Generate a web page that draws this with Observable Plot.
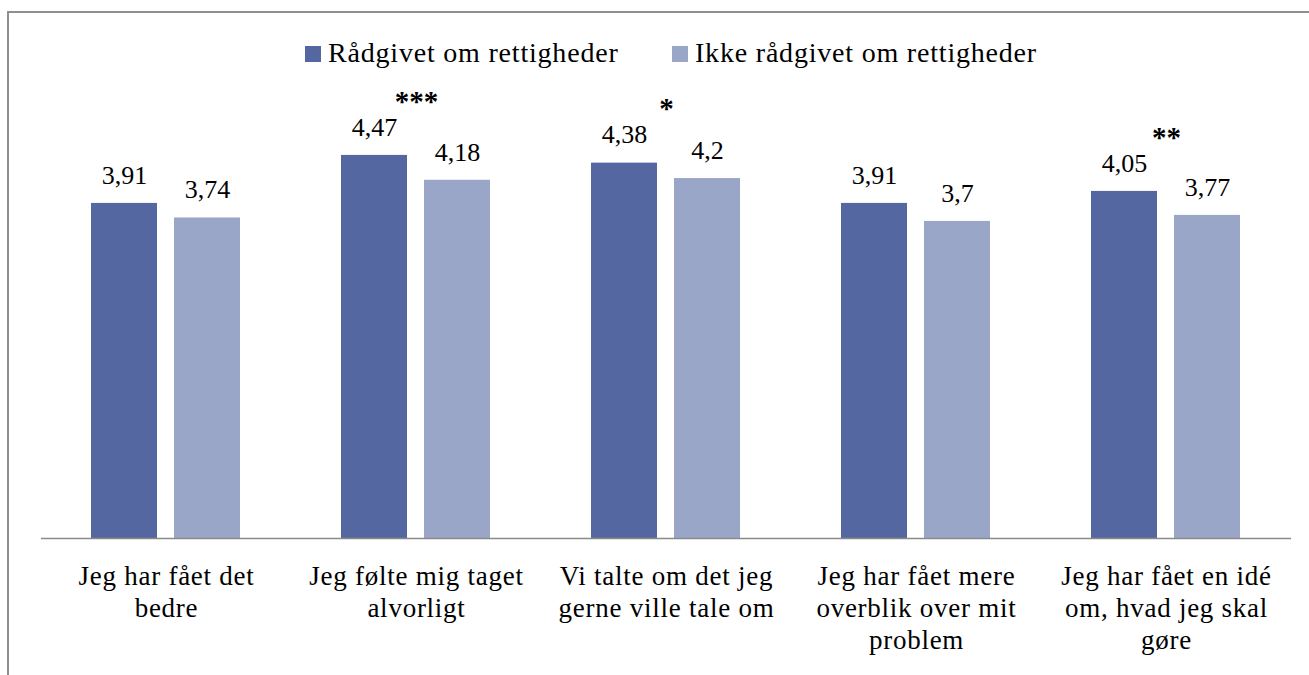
<!DOCTYPE html>
<html><head><meta charset="utf-8">
<script src="https://cdn.jsdelivr.net/npm/d3@7"></script>
<script src="https://cdn.jsdelivr.net/npm/@observablehq/plot@0.6"></script>
<style>
body{margin:0;background:#fff;font-family:'Liberation Serif','Times New Roman',serif;}
#wrap{position:relative;width:1309px;height:675px;overflow:hidden;background:#fff;}
#frame{position:absolute;left:7px;top:11px;width:1400px;height:800px;border:2px solid #8f8f8f;box-sizing:border-box;pointer-events:none;}
#legend{position:relative;height:80px;font-size:28px;color:#000;letter-spacing:0.8px;}
.item{position:absolute;top:39px;line-height:28px;white-space:nowrap;}
.sw{position:absolute;width:16px;height:16px;top:46px;}
#chart svg{display:block;}
#chart g[font-size="27"] text{letter-spacing:0.75px;}
</style></head><body>
<div id="wrap"><div id="legend"></div><div id="chart"></div><div id="frame"></div></div>
<script>
const categories = [
  "Jeg har fået det\nbedre",
  "Jeg følte mig taget\nalvorligt",
  "Vi talte om det jeg\ngerne ville tale om",
  "Jeg har fået mere\noverblik over mit\nproblem",
  "Jeg har fået en idé\nom, hvad jeg skal\ngøre"
];
const series = ["Rådgivet om rettigheder", "Ikke rådgivet om rettigheder"];
const raadgivet = [3.91, 4.47, 4.38, 3.91, 4.05];
const ikkeRaadgivet = [3.74, 4.18, 4.2, 3.7, 3.77];
const significance = ["", "***", "*", "", "**"];
const colors = ["#5567a0", "#99a6c8"];
const FONT = "'Liberation Serif','Times New Roman',serif";

const data = categories.flatMap((c, i) => [
  {cat: c, series: series[0], value: raadgivet[i]},
  {cat: c, series: series[1], value: ikkeRaadgivet[i]}
]);
const sigData = categories
  .map((c, i) => ({cat: c, sig: significance[i], top: Math.max(raadgivet[i], ikkeRaadgivet[i])}))
  .filter(d => d.sig);
const fmt = v => String(v).replace(".", ",");

const legend = document.getElementById("legend");
const legendX = [305, 672];
series.forEach((s, i) => {
  const sw = document.createElement("div");
  sw.className = "sw";
  sw.style.left = legendX[i] + "px";
  sw.style.background = colors[i];
  legend.appendChild(sw);
  const t = document.createElement("div");
  t.className = "item";
  t.style.left = (legendX[i] + 23) + "px";
  t.textContent = s;
  legend.appendChild(t);
});

const chart = Plot.plot({
  width: 1309,
  height: 595,
  marginTop: 29.5,
  marginBottom: 137,
  marginLeft: 39,
  marginRight: 17,
  style: {fontFamily: FONT, fontSize: "26px", background: "transparent", color: "#000"},
  fx: {domain: categories, padding: 0, axis: null},
  x: {domain: series, paddingInner: 0.2024, paddingOuter: 0.593, axis: null},
  y: {domain: [0, 5], axis: null},
  color: {domain: series, range: colors},
  marks: [
    Plot.barY(data, {fx: "cat", x: "series", y: "value", fill: "series"}),
    Plot.ruleY([0], {stroke: "#8a8a8a", strokeWidth: 1.5}),
    Plot.text(data, {fx: "cat", x: "series", y: "value", text: d => fmt(d.value), dy: -28, fill: "#000", fontSize: 26, fontFamily: FONT}),
    Plot.text(sigData, {fx: "cat", y: "top", text: "sig", dy: -54, fill: "#000", fontSize: 29, fontWeight: "bold", fontFamily: FONT}),
    Plot.text(categories, {fx: d => d, text: d => d, frameAnchor: "bottom", lineAnchor: "top", dy: 23, lineHeight: 1.2, fill: "#000", fontSize: 27, fontFamily: FONT})
  ]
});
document.getElementById("chart").appendChild(chart);
</script>
</body></html>
